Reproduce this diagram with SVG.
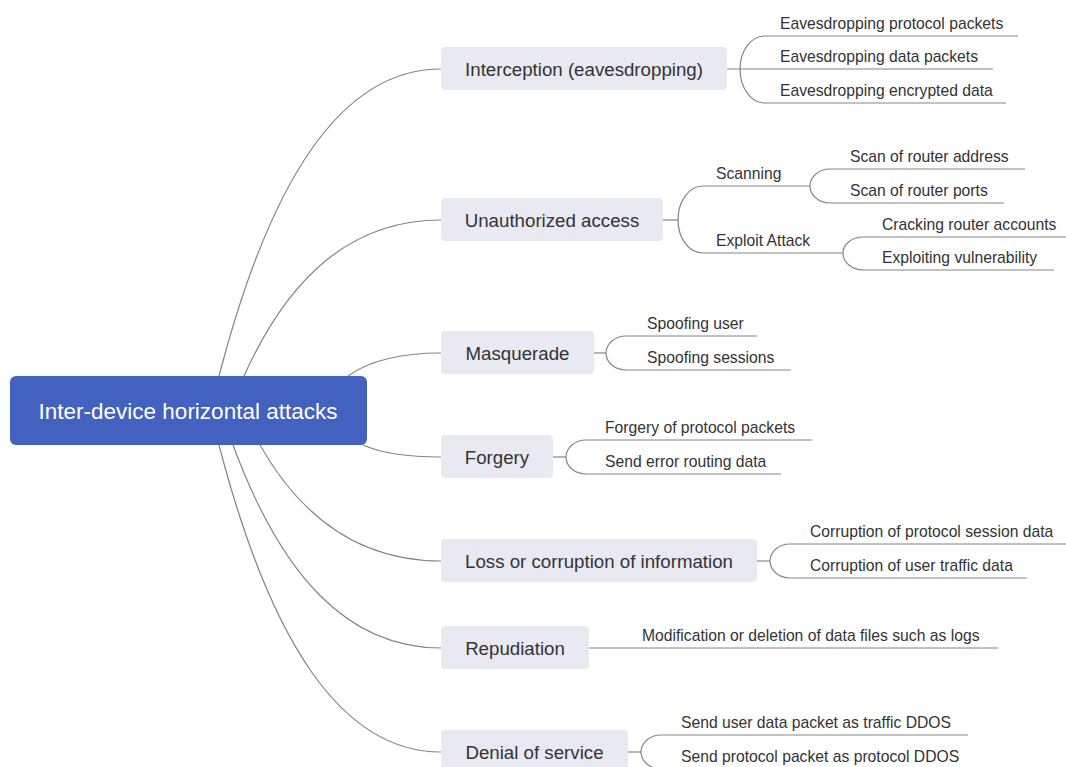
<svg xmlns="http://www.w3.org/2000/svg" width="1066" height="767" viewBox="0 0 1066 767">
<style>
.c{fill:none;stroke:#858585;stroke-width:1.2}
.n1 rect{fill:#E9E9F2}
.n1 text{font-family:"Liberation Sans",Arial,sans-serif;font-size:18.7px;fill:#333;text-anchor:middle}
.leaf{font-family:"Liberation Sans",Arial,sans-serif;font-size:15.7px;fill:#333}
.root text{font-family:"Liberation Sans",Arial,sans-serif;font-size:22.5px;fill:#fff;text-anchor:middle}
</style>
<rect width="1066" height="767" fill="#fff"/>
<g id="connectors">
<path class="c" d="M219,376 C270,180 341,69 441,69"/>
<path class="c" d="M244,376 C289,276 352,220 441,220"/>
<path class="c" d="M348,376 C369,361 399,353 441,353"/>
<path class="c" d="M363,445 C381,453 406,457 441,457"/>
<path class="c" d="M260,445 C302,519 360,561 441,561"/>
<path class="c" d="M233,445 C281,575 347,648 441,648"/>
<path class="c" d="M219,445 C270,641 341,752 441,752"/>
<path class="c" d="M740,69 C740,50.8 751,36 765,36 H1018"/>
<path class="c" d="M727,69 H993"/>
<path class="c" d="M740,69 C740,87.8 751,103 765,103 H1006"/>
<path class="c" d="M663,220 H678"/>
<path class="c" d="M678,220 C678,201.2 689,186 703,186 H810"/>
<path class="c" d="M678,220 C678,238.2 689,253 703,253 H843"/>
<path class="c" d="M810,186 C810,176.6 819,169 830,169 H1025"/>
<path class="c" d="M810,186 C810,195.4 819,203 830,203 H1004"/>
<path class="c" d="M843,253 C843,244.2 852,237 863,237 H1066"/>
<path class="c" d="M843,253 C843,262.4 852,270 863,270 H1054"/>
<path class="c" d="M594,353 H606"/>
<path class="c" d="M606,353 C606,343.6 615,336 626,336 H757"/>
<path class="c" d="M606,353 C606,362.4 615,370 626,370 H791"/>
<path class="c" d="M553,457 H566"/>
<path class="c" d="M566,457 C566,447.6 575,440 586,440 H812"/>
<path class="c" d="M566,457 C566,466.4 575,474 586,474 H781"/>
<path class="c" d="M757,561 H770"/>
<path class="c" d="M770,561 C770,551.6 779,544 790,544 H1066"/>
<path class="c" d="M770,561 C770,570.4 779,578 790,578 H1027"/>
<path class="c" d="M589,648 H998"/>
<path class="c" d="M628,752 H641"/>
<path class="c" d="M641,752 C641,742.6 650,735 661,735 H968"/>
<path class="c" d="M641,752 C641,761.4 650,769 661,769 H1000"/>
</g>
<g id="root" class="root">
<rect x="10" y="376" width="357" height="69" rx="6" fill="#4361BF"/>
<text x="188" y="419">Inter-device horizontal attacks</text>
</g>
<g id="interception" class="n1"><rect x="441" y="47" width="286" height="43" rx="4"/><text x="584" y="75.5">Interception (eavesdropping)</text></g>
<g id="unauthorized" class="n1"><rect x="441" y="198" width="222" height="43" rx="4"/><text x="552" y="226.5">Unauthorized access</text></g>
<g id="masquerade" class="n1"><rect x="441" y="331" width="153" height="43" rx="4"/><text x="517.5" y="359.5">Masquerade</text></g>
<g id="forgery" class="n1"><rect x="441" y="435" width="112" height="43" rx="4"/><text x="497" y="463.5">Forgery</text></g>
<g id="loss" class="n1"><rect x="441" y="539" width="316" height="43" rx="4"/><text x="599" y="567.5">Loss or corruption of information</text></g>
<g id="repudiation" class="n1"><rect x="441" y="626" width="148" height="43" rx="4"/><text x="515" y="654.5">Repudiation</text></g>
<g id="denial" class="n1"><rect x="441" y="730" width="187" height="43" rx="4"/><text x="534.5" y="758.5">Denial of service</text></g>
<g id="leaf-e1"><text class="leaf" x="780" y="29">Eavesdropping protocol packets</text></g>
<g id="leaf-e2"><text class="leaf" x="780" y="62">Eavesdropping data packets</text></g>
<g id="leaf-e3"><text class="leaf" x="780" y="96">Eavesdropping encrypted data</text></g>
<g id="scanning"><text class="leaf" x="716" y="179">Scanning</text></g>
<g id="exploit"><text class="leaf" x="716" y="246">Exploit Attack</text></g>
<g id="leaf-s1"><text class="leaf" x="850" y="162">Scan of router address</text></g>
<g id="leaf-s2"><text class="leaf" x="850" y="196">Scan of router ports</text></g>
<g id="leaf-x1"><text class="leaf" x="882" y="230">Cracking router accounts</text></g>
<g id="leaf-x2"><text class="leaf" x="882" y="263">Exploiting vulnerability</text></g>
<g id="leaf-m1"><text class="leaf" x="647" y="329">Spoofing user</text></g>
<g id="leaf-m2"><text class="leaf" x="647" y="363">Spoofing sessions</text></g>
<g id="leaf-f1"><text class="leaf" x="605" y="433">Forgery of protocol packets</text></g>
<g id="leaf-f2"><text class="leaf" x="605" y="467">Send error routing data</text></g>
<g id="leaf-l1"><text class="leaf" x="810" y="537">Corruption of protocol session data</text></g>
<g id="leaf-l2"><text class="leaf" x="810" y="571">Corruption of user traffic data</text></g>
<g id="leaf-r1"><text class="leaf" x="642" y="641">Modification or deletion of data files such as logs</text></g>
<g id="leaf-d1"><text class="leaf" x="681" y="728">Send user data packet as traffic DDOS</text></g>
<g id="leaf-d2"><text class="leaf" x="681" y="762">Send protocol packet as protocol DDOS</text></g>
</svg>
